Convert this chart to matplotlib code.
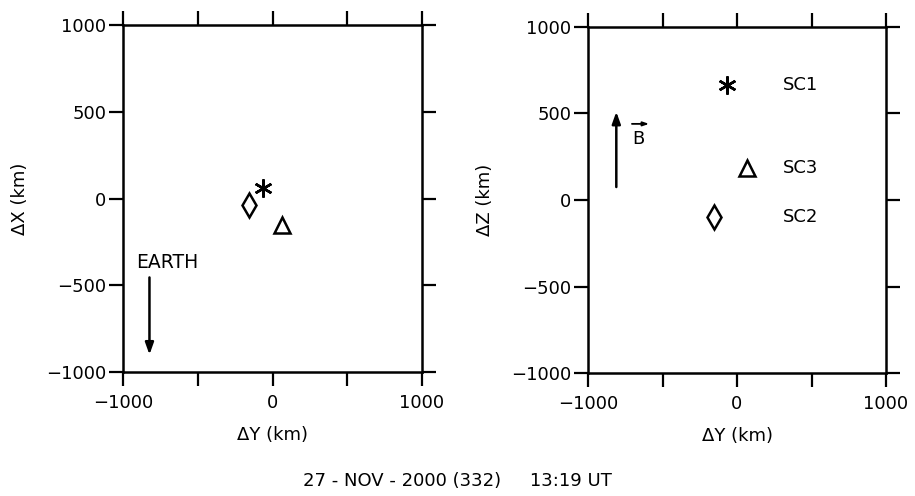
import matplotlib
matplotlib.use("Agg")
import matplotlib.pyplot as plt

# Relative spacecraft positions (km)
sc_names = ["SC1", "SC2", "SC3"]
dy = [-65, -155, 65]
dx = [60, -40, -152]
dz = [665, -96, 183]
markers = [(6, 2, 0), "d", "^"]
msizes = [13, 12, 12]

ticks = [-1000, -500, 0, 500, 1000]
title = "27 - NOV - 2000 (332)     13:19 UT"

plt.rcParams["font.family"] = ["DejaVu Sans"]
fig = plt.figure(figsize=(9.15, 4.96), dpi=100)
ax1 = fig.add_axes([123 / 915, 1 - 372 / 496, 299 / 915, 347 / 496])
ax2 = fig.add_axes([588 / 915, 1 - 373 / 496, 298 / 915, 346 / 496])


def fmt(t):
    return str(t).replace("-", "\u2212")


def style(ax, ylabel):
    ax.set_xlim(-1000, 1000)
    ax.set_ylim(-1000, 1000)
    ax.set_xticks(ticks)
    ax.set_yticks(ticks)
    ax.set_xticklabels([fmt(t) if i % 2 == 0 else "" for i, t in enumerate(ticks)])
    ax.set_yticklabels([fmt(t) for t in ticks])
    ax.tick_params(direction="out", length=10, width=1.6, labelsize=13,
                   top=True, right=True)
    ax.tick_params(axis="x", pad=6)
    ax.tick_params(axis="y", pad=2)
    for s in ax.spines.values():
        s.set_linewidth(1.8)
    ax.set_xlabel("ΔY (km)", fontsize=13, labelpad=10)
    ax.set_ylabel(ylabel, fontsize=13, labelpad=12)


style(ax1, "ΔX (km)")
style(ax2, "ΔZ (km)")

for y, x, z, m, s in zip(dy, dx, dz, markers, msizes):
    ax1.plot(y, x, marker=m, ms=s, mfc="none", mec="black", mew=1.8, ls="none")
    ax2.plot(y, z, marker=m, ms=s, mfc="none", mec="black", mew=1.8, ls="none")

for name, z in zip(sc_names, dz):
    ax2.text(310, z, name, fontsize=13, va="center", ha="left")

arrow_style = dict(arrowstyle="-|>,head_length=0.7,head_width=0.25",
                   lw=1.8, color="black", shrinkA=0, shrinkB=0)

# Earth direction
ax1.text(-915, -370, "EARTH", fontsize=13.5, va="center", ha="left")
ax1.annotate("", xy=(-823, -900), xytext=(-823, -455), arrowprops=arrow_style)

# Magnetic field direction
ax2.annotate("", xy=(-810, 510), xytext=(-810, 75), arrowprops=arrow_style)
ax2.text(-700, 355, "B", fontsize=13, va="center", ha="left")
ax2.annotate("", xy=(-590, 440), xytext=(-705, 440),
             arrowprops=dict(arrowstyle="-|>,head_length=0.35,head_width=0.12",
                             lw=1.3, color="black", shrinkA=0, shrinkB=0))

fig.text(0.5, 1 - 481 / 496, title, fontsize=13, ha="center", va="center")

fig.savefig("out.png", dpi=100)
